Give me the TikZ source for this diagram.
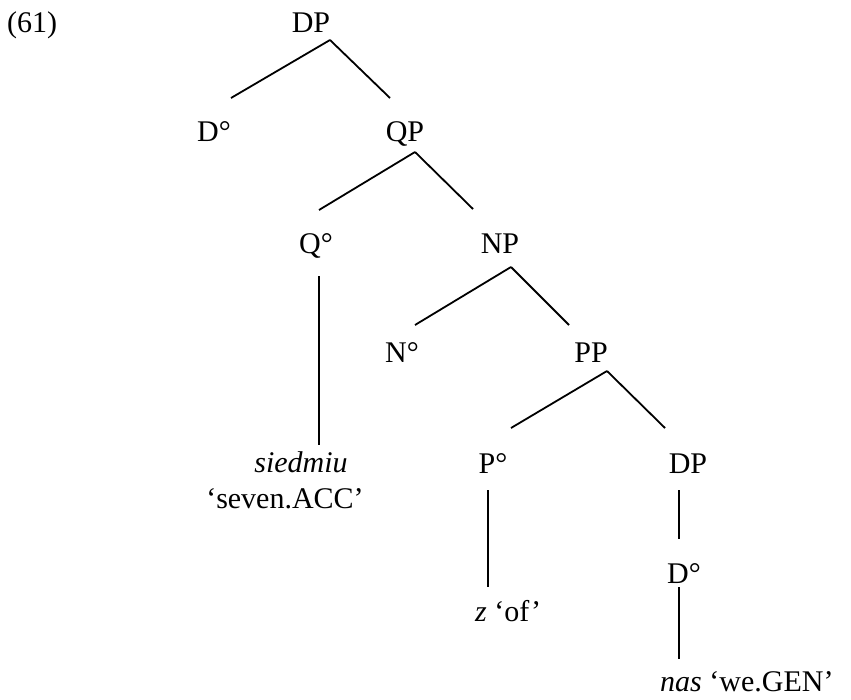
\documentclass[tikz,border=0pt]{standalone}
\usepackage{fontspec}
\setmainfont{Liberation Serif}
\usetikzlibrary{calc,positioning}
\tikzset{
  cat/.style={anchor=base,inner sep=0pt,font=\fontsize{30}{36}\selectfont},
  leaf/.style={cat,anchor=base west},
  branch/.style={black,line width=1.8pt},
}

\begin{document}
\begin{tikzpicture}[x=1pt,y=-1pt]
  \path[use as bounding box] (0,0) rectangle (851,699);
  \node[leaf] (exno) at (7,32) {(61)};

  % categories
  \node[cat] (dp) at (311,32) {DP};
  \node[cat] (dhead) at (214,141) {D°};
  \node[cat] (qp) at (405,141) {QP};
  \node[cat] (qhead) at (316,253) {Q°};
  \node[cat] (np) at (500,253) {NP};
  \node[cat] (nhead) at (402,362) {N°};
  \node[cat] (pp) at (591,362) {PP};
  \node[cat] (phead) at (493,473) {P°};
  \node[cat] (dpinner) at (688,473) {DP};
  \node[cat] (dinner) at (684,583) {D°};

  % words
  \node[cat] (siedmiu) at (301,472) {\textit{siedmiu}};
  \node[cat] (seven) at (285,508) {‘seven.ACC’};
  \node[leaf] (zof) at (475,621) {\textit{z} ‘of’};
  \node[leaf] (nas) at (660,691) {\textit{nas} ‘we.GEN’};

  % branches
  \draw[branch] ($(dp.base)+(19,8)$) -- ($(dhead.base)+(17,-43)$);
  \draw[branch] ($(dp.base)+(19,8)$) -- ($(qp.base)+(-15,-43)$);
  \draw[branch] ($(qp.base)+(10,11)$) -- ($(qhead.base)+(3,-43)$);
  \draw[branch] ($(qp.base)+(10,11)$) -- ($(np.base)+(-27,-44)$);
  \draw[branch] ($(qhead.base)+(3,23)$) -- ($(siedmiu.base)+(18,-27)$);
  \draw[branch] ($(np.base)+(11,14)$) -- ($(nhead.base)+(13,-37)$);
  \draw[branch] ($(np.base)+(11,14)$) -- ($(pp.base)+(-22,-37)$);
  \draw[branch] ($(pp.base)+(16,9)$) -- ($(phead.base)+(18,-45)$);
  \draw[branch] ($(pp.base)+(16,9)$) -- ($(dpinner.base)+(-23,-45)$);
  \draw[branch] ($(phead.base)+(-5,17)$) -- ($(zof.base west)+(13,-34)$);
  \draw[branch] ($(dpinner.base)+(-9,17)$) -- ($(dinner.base)+(-5,-44)$);
  \draw[branch] ($(dinner.base)+(-5,4)$) -- ($(nas.base west)+(19,-32)$);
\end{tikzpicture}
\end{document}
